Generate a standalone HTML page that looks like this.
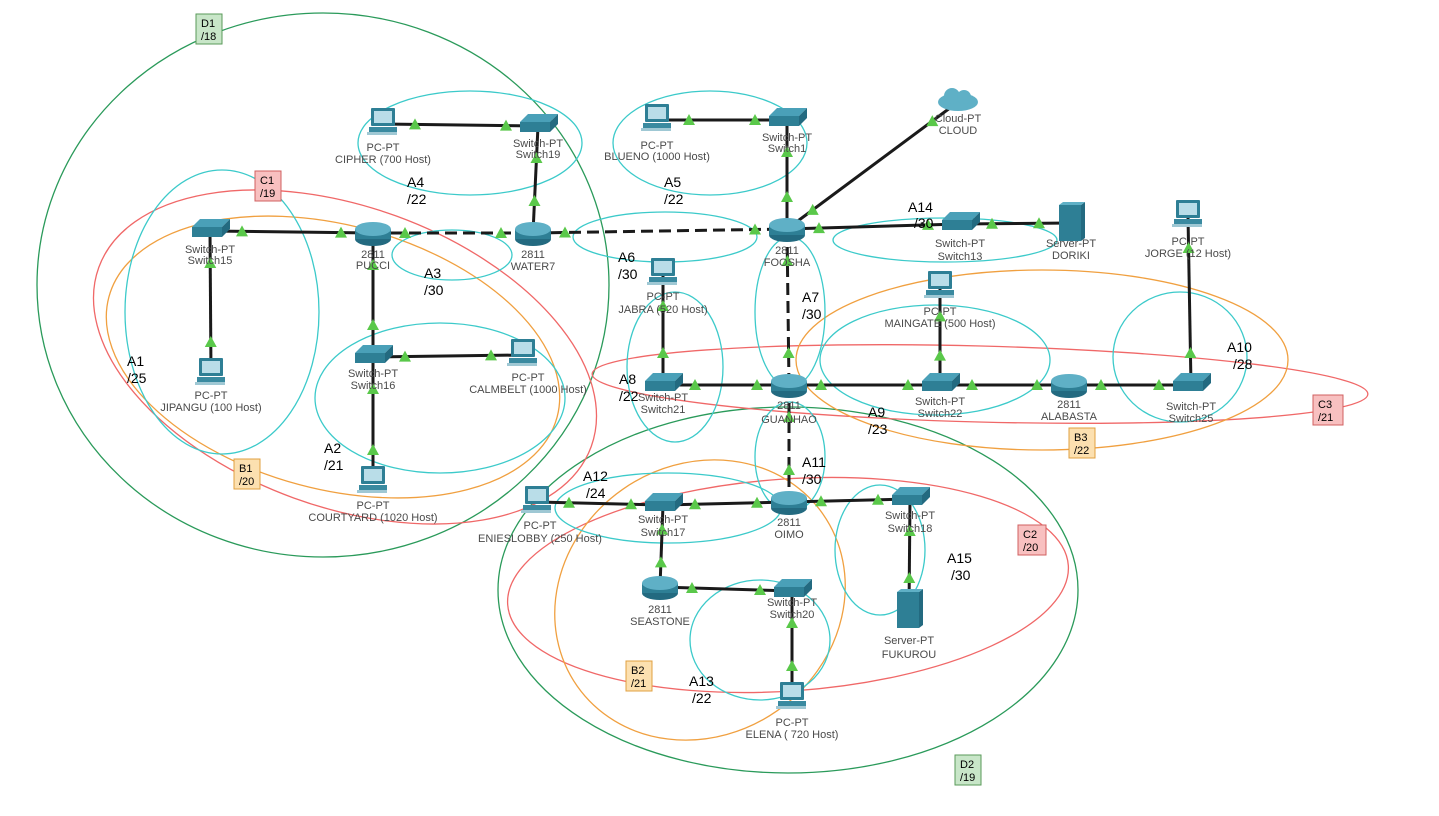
<!DOCTYPE html>
<html><head><meta charset="utf-8"><style>
html,body{margin:0;padding:0;background:#fff;}
svg{display:block;font-family:"Liberation Sans",sans-serif;}
.l{font-size:11px;fill:#4a4a4a;text-anchor:middle;}
.a{font-size:14px;fill:#000;}
.b{font-size:11px;fill:#000;}
</style></head><body>
<svg id="s" width="1439" height="816" viewBox="0 0 1439 816" xmlns="http://www.w3.org/2000/svg">
<defs>
<g id="pc"><rect x="-12" y="-16" width="24" height="18" rx="1" fill="#2e7f95"/><rect x="-9" y="-13" width="18" height="12" fill="#b9dde8"/><rect x="-14" y="3" width="28" height="5" fill="#3a8aa0"/><rect x="-16" y="8" width="30" height="3" fill="#9fc8d4"/></g>
<g id="sw"><polygon points="-18,-4 -10,-12 20,-12 12,-4" fill="#4aa0b8"/><rect x="-18" y="-4" width="30" height="10" fill="#2e7f95"/><polygon points="12,-4 20,-12 20,-2 12,6" fill="#236a80"/></g>
<g id="rt"><ellipse cx="0" cy="6" rx="18" ry="7" fill="#236a80"/><rect x="-18" y="-4" width="36" height="10" fill="#2e7f95"/><ellipse cx="0" cy="-4" rx="18" ry="7" fill="#5fb0c6"/></g>
<g id="sv"><rect x="-12" y="-18" width="22" height="36" fill="#2e7f95"/><polygon points="10,-18 14,-21 14,15 10,18" fill="#236a80"/><polygon points="-12,-18 -8,-21 14,-21 10,-18" fill="#5fb0c6"/></g>
<g id="cl"><ellipse cx="0" cy="0" rx="20" ry="9" fill="#5fb0c6"/><circle cx="-6" cy="-6" r="8" fill="#5fb0c6"/><circle cx="6" cy="-5" r="7" fill="#5fb0c6"/></g>
</defs>
<g id="ell" fill="none" stroke-width="1.3">
<ellipse cx="323" cy="285" rx="286" ry="272" stroke="#2a9a5a"/>
<ellipse cx="788" cy="590" rx="290" ry="183" stroke="#2a9a5a"/>
<ellipse cx="345" cy="357" rx="262" ry="150" transform="rotate(20 345 357)" stroke="#f06868"/>
<ellipse cx="788" cy="585" rx="281" ry="106" transform="rotate(-4 788 585)" stroke="#f06868"/>
<ellipse cx="980" cy="384" rx="388" ry="38" transform="rotate(1.5 980 384)" stroke="#f06868"/>
<ellipse cx="333" cy="357" rx="232" ry="132" transform="rotate(15 333 357)" stroke="#f0a040"/>
<ellipse cx="1042" cy="360" rx="246" ry="90" stroke="#f0a040"/>
<ellipse cx="700" cy="600" rx="150" ry="135" transform="rotate(-35 700 600)" stroke="#f0a040"/>
<g stroke="#3ccaca">
<ellipse cx="470" cy="143" rx="112" ry="52"/>
<ellipse cx="710" cy="143" rx="97" ry="52"/>
<ellipse cx="222" cy="312" rx="97" ry="142"/>
<ellipse cx="452" cy="255" rx="60" ry="25"/>
<ellipse cx="440" cy="398" rx="125" ry="75"/>
<ellipse cx="665" cy="237" rx="92" ry="25"/>
<ellipse cx="945" cy="240" rx="112" ry="22"/>
<ellipse cx="790" cy="312" rx="35" ry="75"/>
<ellipse cx="675" cy="367" rx="48" ry="75"/>
<ellipse cx="935" cy="360" rx="115" ry="55"/>
<ellipse cx="1180" cy="357" rx="67" ry="65"/>
<ellipse cx="790" cy="457" rx="35" ry="55"/>
<ellipse cx="668" cy="508" rx="113" ry="35"/>
<ellipse cx="880" cy="550" rx="45" ry="65"/>
<ellipse cx="760" cy="640" rx="70" ry="60"/>
</g></g>
<g id="links"></g>
<g id="tri" fill="#5ac84a"></g>
<g id="nodes">
<use href="#pc" x="383" y="124"/><use href="#sw" x="538" y="126"/>
<use href="#pc" x="657" y="120"/><use href="#sw" x="787" y="120"/>
<use href="#cl" x="958" y="102"/>
<use href="#sw" x="210" y="231"/><use href="#rt" x="373" y="233"/><use href="#rt" x="533" y="233"/><use href="#rt" x="787" y="229"/>
<use href="#sw" x="960" y="224"/><use href="#sv" x="1071" y="223"/><use href="#pc" x="1188" y="216"/>
<use href="#pc" x="663" y="274"/><use href="#pc" x="940" y="287"/>
<use href="#sw" x="373" y="357"/><use href="#pc" x="523" y="355"/><use href="#pc" x="211" y="374"/>
<use href="#sw" x="663" y="385"/><use href="#rt" x="789" y="385"/><use href="#sw" x="940" y="385"/><use href="#rt" x="1069" y="385"/><use href="#sw" x="1191" y="385"/>
<use href="#pc" x="373" y="482"/><use href="#pc" x="537" y="502"/><use href="#sw" x="663" y="505"/><use href="#rt" x="789" y="502"/><use href="#sw" x="910" y="499"/>
<use href="#rt" x="660" y="587"/><use href="#sw" x="792" y="591"/><use href="#sv" x="909" y="610"/><use href="#pc" x="792" y="698"/>
</g>
<g class="l">
<text x="383" y="151">PC-PT</text><text x="383" y="163">CIPHER (700 Host)</text>
<text x="538" y="147">Switch-PT</text><text x="538" y="158">Switch19</text>
<text x="657" y="149">PC-PT</text><text x="657" y="160">BLUENO (1000 Host)</text>
<text x="787" y="141">Switch-PT</text><text x="787" y="152">Switch1</text>
<text x="958" y="122">Cloud-PT</text><text x="958" y="134">CLOUD</text>
<text x="210" y="253">Switch-PT</text><text x="210" y="264">Switch15</text>
<text x="373" y="258">2811</text><text x="373" y="269">PUCCI</text>
<text x="533" y="258">2811</text><text x="533" y="270">WATER7</text>
<text x="787" y="254">2811</text><text x="787" y="266">FOOSHA</text>
<text x="960" y="247">Switch-PT</text><text x="960" y="260">Switch13</text>
<text x="1071" y="247">Server-PT</text><text x="1071" y="259">DORIKI</text>
<text x="1188" y="245">PC-PT</text><text x="1188" y="257">JORGE (12 Host)</text>
<text x="663" y="300">PC-PT</text><text x="663" y="313">JABRA (520 Host)</text>
<text x="940" y="315">PC-PT</text><text x="940" y="327">MAINGATE (500 Host)</text>
<text x="373" y="377">Switch-PT</text><text x="373" y="389">Switch16</text>
<text x="528" y="381">PC-PT</text><text x="528" y="393">CALMBELT (1000 Host)</text>
<text x="211" y="399">PC-PT</text><text x="211" y="411">JIPANGU (100 Host)</text>
<text x="663" y="401">Switch-PT</text><text x="663" y="413">Switch21</text>
<text x="789" y="409">2811</text><text x="789" y="423">GUANHAO</text>
<text x="940" y="405">Switch-PT</text><text x="940" y="417">Switch22</text>
<text x="1069" y="408">2811</text><text x="1069" y="420">ALABASTA</text>
<text x="1191" y="410">Switch-PT</text><text x="1191" y="422">Switch25</text>
<text x="373" y="509">PC-PT</text><text x="373" y="521">COURTYARD (1020 Host)</text>
<text x="540" y="529">PC-PT</text><text x="540" y="542">ENIESLOBBY (250 Host)</text>
<text x="663" y="523">Switch-PT</text><text x="663" y="536">Switch17</text>
<text x="789" y="526">2811</text><text x="789" y="538">OIMO</text>
<text x="910" y="519">Switch-PT</text><text x="910" y="532">Switch18</text>
<text x="660" y="613">2811</text><text x="660" y="625">SEASTONE</text>
<text x="792" y="606">Switch-PT</text><text x="792" y="618">Switch20</text>
<text x="909" y="644">Server-PT</text><text x="909" y="658">FUKUROU</text>
<text x="792" y="726">PC-PT</text><text x="792" y="738">ELENA ( 720 Host)</text>
</g>
<g class="a">
<text x="407" y="187">A4</text><text x="407" y="204">/22</text>
<text x="664" y="187">A5</text><text x="664" y="204">/22</text>
<text x="424" y="278">A3</text><text x="424" y="295">/30</text>
<text x="127" y="366">A1</text><text x="127" y="383">/25</text>
<text x="324" y="453">A2</text><text x="324" y="470">/21</text>
<text x="618" y="262">A6</text><text x="618" y="279">/30</text>
<text x="908" y="212">A14</text><text x="914" y="228">/30</text>
<text x="802" y="302">A7</text><text x="802" y="319">/30</text>
<text x="619" y="384">A8</text><text x="619" y="401">/22</text>
<text x="868" y="417">A9</text><text x="868" y="434">/23</text>
<text x="1227" y="352">A10</text><text x="1233" y="369">/28</text>
<text x="802" y="467">A11</text><text x="802" y="484">/30</text>
<text x="583" y="481">A12</text><text x="586" y="498">/24</text>
<text x="947" y="563">A15</text><text x="951" y="580">/30</text>
<text x="689" y="686">A13</text><text x="692" y="703">/22</text>
</g>
<g class="b">
<rect x="196" y="14" width="26" height="30" fill="#c8e6c8" stroke="#5a9a5a"/><text x="201" y="27">D1</text><text x="201" y="40">/18</text>
<rect x="255" y="171" width="26" height="30" fill="#f8c0c0" stroke="#d06060"/><text x="260" y="184">C1</text><text x="260" y="197">/19</text>
<rect x="234" y="459" width="26" height="30" fill="#fce0b0" stroke="#e0a040"/><text x="239" y="472">B1</text><text x="239" y="485">/20</text>
<rect x="1069" y="428" width="26" height="30" fill="#fce0b0" stroke="#e0a040"/><text x="1074" y="441">B3</text><text x="1074" y="454">/22</text>
<rect x="1313" y="395" width="30" height="30" fill="#f8c0c0" stroke="#d06060"/><text x="1318" y="408">C3</text><text x="1318" y="421">/21</text>
<rect x="1018" y="525" width="28" height="30" fill="#f8c0c0" stroke="#d06060"/><text x="1023" y="538">C2</text><text x="1023" y="551">/20</text>
<rect x="626" y="661" width="26" height="30" fill="#fce0b0" stroke="#e0a040"/><text x="631" y="674">B2</text><text x="631" y="687">/21</text>
<rect x="955" y="755" width="26" height="30" fill="#c8e6c8" stroke="#5a9a5a"/><text x="960" y="768">D2</text><text x="960" y="781">/19</text>
</g>
</svg>
<script>
var N={cip:[383,124],s19:[538,126],blu:[657,120],s1:[787,120],cl:[958,102],s15:[210,231],pu:[373,233],w7:[533,233],fo:[787,229],s13:[960,224],dor:[1071,223],jor:[1188,216],jab:[663,274],mg:[940,287],s16:[373,357],cb:[523,355],jip:[211,374],s21:[663,385],gu:[789,385],s22:[940,385],al:[1069,385],s25:[1191,385],ct:[373,482],el:[537,502],s17:[663,505],oi:[789,502],s18:[910,499],se:[660,587],s20:[792,591],fu:[909,610],ele:[792,698]};
var L=[["cip","s19"],["s19","w7"],["blu","s1"],["s1","fo"],["fo","cl"],["s15","pu"],["pu","w7",1],["w7","fo",1],["fo","s13"],["s13","dor"],["s15","jip"],["pu","s16"],["s16","cb"],["s16","ct"],["jab","s21"],["s21","gu"],["fo","gu",1],["gu","s22"],["s22","mg"],["s22","al"],["al","s25"],["s25","jor"],["gu","oi",1],["el","s17"],["s17","oi"],["oi","s18"],["s18","fu"],["s17","se"],["se","s20"],["s20","ele"]];
var ns="http://www.w3.org/2000/svg",lg=document.getElementById("links"),tg=document.getElementById("tri");
L.forEach(function(l){var a=N[l[0]],b=N[l[1]];var e=document.createElementNS(ns,"line");
e.setAttribute("x1",a[0]);e.setAttribute("y1",a[1]);e.setAttribute("x2",b[0]);e.setAttribute("y2",b[1]);
e.setAttribute("stroke","#1a1a1a");e.setAttribute("stroke-width","3");if(l[2])e.setAttribute("stroke-dasharray","12,6");lg.appendChild(e);
var dx=b[0]-a[0],dy=b[1]-a[1],d=Math.hypot(dx,dy);[[a,1],[b,-1]].forEach(function(p){var t=Math.min(32,d*0.3)/d*p[1];
var x=p[0][0]+dx*t,y=p[0][1]+dy*t;var g=document.createElementNS(ns,"polygon");g.setAttribute("points",(x-6)+","+(y+5)+" "+(x+6)+","+(y+5)+" "+x+","+(y-6));tg.appendChild(g);});});
</script>
</body></html>
